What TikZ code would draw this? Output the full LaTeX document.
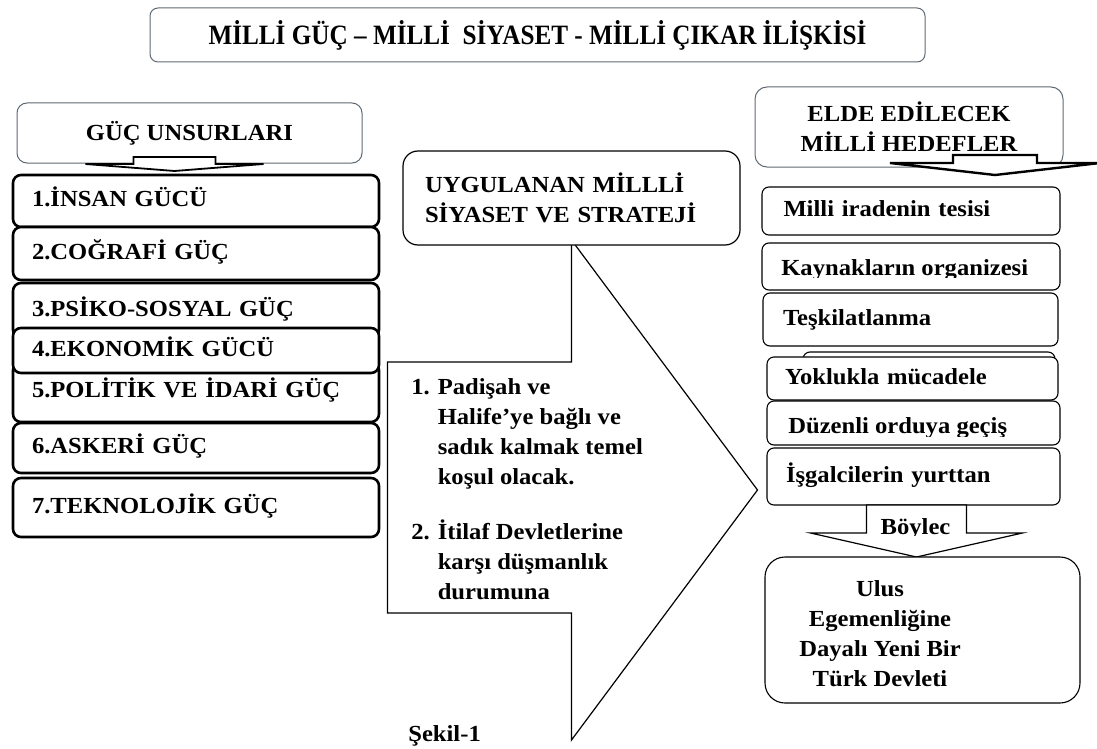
\documentclass[tikz,border=0pt]{standalone}
\usepackage{fontspec}
\setmainfont{Liberation Serif}[FakeStretch=1.07]
\newfontfamily\baslikfont{Liberation Serif}[FakeStretch=0.9]
\usetikzlibrary{calc,backgrounds}
\definecolor{cercevegri}{RGB}{95,105,115}

\begin{document}
\begin{tikzpicture}[x=1pt,y=-1pt,
  font=\fontsize{23}{30}\selectfont\bfseries,
  every node/.style={outer sep=0pt},
  ustbox/.style={draw=cercevegri,fill=white,line width=1pt,anchor=north west},
  gucbox/.style={draw,fill=white,rounded corners=8pt,line width=2.6pt,anchor=north west,
    text width=328pt,inner xsep=19pt,align=left,text height=16pt,text depth=5pt},
  hedefbox/.style={draw,fill=white,rounded corners=7pt,line width=1.1pt,anchor=north west,
    text width=255pt,inner xsep=18pt,align=left,text height=16pt,text depth=5pt},
  blokok/.style={draw,fill=white,line width=1.2pt,line join=miter}]
  \useasboundingbox (0,0) rectangle (1097,749);

  % baslik
  \node[ustbox,rounded corners=8pt,minimum width=775pt,minimum height=54pt,
    font=\baslikfont\fontsize{28}{30}\selectfont\bfseries] (baslik) at (150,8)
    {MİLLİ GÜÇ – MİLLİ~ SİYASET - MİLLİ ÇIKAR İLİŞKİSİ};

  % guc unsurlari
  \node[ustbox,rounded corners=10pt,minimum width=345pt,minimum height=60pt] (guc) at (17,103) {GÜÇ UNSURLARI};
  \draw[blokok,line width=1.8pt,shift={($(guc.south)+(-15,0)$)}]
    (-41,-6) -- (41,-6) -- (41,1) -- (89,1) -- (0,8) -- (-89,1) -- (-41,1) -- cycle;
  \node[gucbox,minimum height=52pt] (g1) at (13,175) {1.İNSAN GÜCÜ};
  \node[gucbox,minimum height=53pt] (g2) at (13,227) {2.COĞRAFİ GÜÇ};
  \node[gucbox,minimum height=55pt] (g3) at (13,283) {3.PSİKO-SOSYAL GÜÇ};
  \node[gucbox,minimum height=60pt] (g5) at (13,362) {5.POLİTİK VE İDARİ GÜÇ};
  \node[gucbox,minimum height=45pt] (g4) at (13,328) {4.EKONOMİK GÜCÜ};
  \node[gucbox,minimum height=50pt] (g6) at (13,423) {6.ASKERİ GÜÇ};
  \node[gucbox,minimum height=59pt] (g7) at (13,478) {7.TEKNOLOJİK GÜÇ};

  % strateji
  \node[draw,fill=white,rounded corners=15pt,line width=1.2pt,anchor=north west,
    minimum width=337pt,minimum height=94pt,text width=293pt,inner xsep=22pt,align=left]
    (strat) at (403,151) {UYGULANAN MİLLLİ\\SİYASET VE STRATEJİ};
  \begin{scope}[on background layer]
    \draw[blokok,shift={(strat.south)}]
      (-184,117) -- (0,117) -- (0,-5) -- (186,245) -- (0,495) -- (0,368) -- (-184,368) -- cycle;
  \end{scope}
  \node[anchor=base west] (kosul) at ($(strat.south west)+(5,149)$)
    {\begin{tabular}[t]{@{}l@{\hspace{8pt}}l@{}}
     1. & Padişah ve\\ & Halife’ye bağlı ve\\ & sadık kalmak temel\\ & koşul olacak.\\[25pt]
     2. & İtilaf Devletlerine\\ & karşı düşmanlık\\ & durumuna
     \end{tabular}};
  \node[anchor=base west] (sekil) at (405,741) {Şekil-1};

  % hedefler
  \node[ustbox,rounded corners=12pt,minimum width=308pt,minimum height=80pt,align=center]
    (hedef) at (755,87) {ELDE EDİLECEK\\MİLLİ HEDEFLER};
  \draw[blokok,line width=2.4pt,shift={($(hedef.south)+(86,0)$)}]
    (-42,-12) -- (42,-12) -- (42,-4) -- (105,-4) -- (0,8) -- (-105,-4) -- (-42,-4) -- cycle;
  \node[hedefbox,minimum width=298pt,minimum height=48pt] (h1) at (762,187) {Milli iradenin tesisi};
  \node[hedefbox,minimum width=298pt,minimum height=47pt] (h2) at (762,243) {};
  \begin{scope}
    \clip (h2.north west) rectangle ($(h2.south east)+(0,-13)$);
    \node[anchor=base west] (h2yazi) at ($(h2.south west)+(16,-15)$) {Kaynakların organizesi};
  \end{scope}
  \node[hedefbox,minimum width=295pt,minimum height=53pt] (h3) at (763,293) {Teşkilatlanma};
  \node[hedefbox,text width=200pt,minimum width=252pt,minimum height=45pt] (h35) at (803,352) {};
  \node[hedefbox,minimum width=290pt,minimum height=43pt] (h4) at (767,357) {Yoklukla mücadele};
  \node[hedefbox,minimum width=293pt,minimum height=44pt] (h5) at (767,401) {};
  \begin{scope}
    \clip (h5.north west) rectangle ($(h5.south east)+(0,-9)$);
    \node[anchor=base west] (h5yazi) at ($(h5.south west)+(18,-12)$) {Düzenli orduya geçiş};
  \end{scope}
  \node[hedefbox,minimum width=293pt,minimum height=57pt] (h6) at (767,448) {İşgalcilerin yurttan};

  % sonuc
  \draw[blokok,shift={($(h6.south)+(3,0)$)}]
    (-50,0) -- (-50,28) -- (-106,28) -- (0,52) -- (106,28) -- (50,28) -- (50,0) -- cycle;
  \begin{scope}
    \clip ($(h6.south)+(-45,0)$) rectangle ($(h6.south)+(50,30)$);
    \node[anchor=base] (boylece) at ($(h6.south)+(2,29)$) {Böylec};
  \end{scope}
  \node[draw,fill=white,rounded corners=20pt,line width=1.1pt,anchor=north west,
    minimum width=315pt,minimum height=146pt] (ulus) at (765,557) {};
  \node[align=center] (ulusyazi) at ($(ulus.west)+(115,4)$)
    {Ulus\\Egemenliğine\\Dayalı Yeni Bir\\Türk Devleti};
\end{tikzpicture}
\end{document}
